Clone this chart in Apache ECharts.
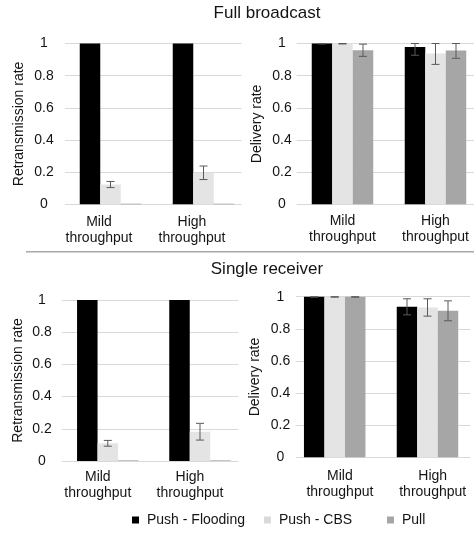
<!DOCTYPE html>
<html><head><meta charset="utf-8">
<script src="https://cdn.jsdelivr.net/npm/echarts@6.0.0/dist/echarts.min.js"></script>
<style>html,body{margin:0;padding:0;background:#fff}#c{width:474px;height:537px}</style>
</head><body><div id="c"></div>
<script>
// ---------- DATA ----------
const categories = ['Mild\nthroughput', 'High\nthroughput'];
const seriesNames = ['Push - Flooding', 'Push - CBS', 'Pull'];
const panelTitles = ['Full broadcast', 'Single receiver'];
const yAxisNames = ['Retransmission rate', 'Delivery rate'];
const yMin = 0, yMax = 1, yStep = 0.2;

// Full broadcast - retransmission rate
const fullRetransFlooding = [1.0, 1.0];
const fullRetransFloodingErr = [0, 0];
const fullRetransCBS = [0.123, 0.196];
const fullRetransCBSErr = [0.019, 0.042];
const fullRetransPull = [0.004, 0.004];
const fullRetransPullErr = [0, 0];

// Full broadcast - delivery rate
const fullDeliveryFlooding = [1.0, 0.979];
const fullDeliveryFloodingErr = [0.003, 0.052];
const fullDeliveryCBS = [1.0, 0.938];
const fullDeliveryCBSErr = [0.003, 0.068];
const fullDeliveryPull = [0.958, 0.956];
const fullDeliveryPullErr = [0.038, 0.048];

// Single receiver - retransmission rate
const singleRetransFlooding = [1.0, 1.0];
const singleRetransFloodingErr = [0, 0];
const singleRetransCBS = [0.11, 0.182];
const singleRetransCBSErr = [0.018, 0.052];
const singleRetransPull = [0.004, 0.004];
const singleRetransPullErr = [0, 0];

// Single receiver - delivery rate
const singleDeliveryFlooding = [1.0, 0.937];
const singleDeliveryFloodingErr = [0.003, 0.05];
const singleDeliveryCBS = [1.0, 0.933];
const singleDeliveryCBSErr = [0.003, 0.054];
const singleDeliveryPull = [1.0, 0.912];
const singleDeliveryPullErr = [0.003, 0.062];

// ---------- STYLE / LAYOUT ----------
const FONT = '"Liberation Sans", Arial, Helvetica, sans-serif';
const TXT = '#141414';
const COLORS = ['#000000', '#e4e4e4', '#a6a6a6'];
const LEGEND_COLORS = ['#000000', '#d9d9d9', '#a6a6a6'];
const GRID_COLOR = '#d9d9d9';
const ERR_COLOR = '#5a5a5a';
const BAR_W = 20.5;
const CAP_W = 8;

const panels = [
  { vals: [fullRetransFlooding, fullRetransCBS, fullRetransPull],
    errs: [fullRetransFloodingErr, fullRetransCBSErr, fullRetransPullErr],
    yName: yAxisNames[0],
    axisGrid: {left: 65, top: 43.5, width: 176.7, height: 160.8},
    barGrid: {left: 64, width: 186},
    nameGap: 38.5, yLabMargin: 21, xLabMargin: 9.5, labShift: -11.5 },
  { vals: [fullDeliveryFlooding, fullDeliveryCBS, fullDeliveryPull],
    errs: [fullDeliveryFloodingErr, fullDeliveryCBSErr, fullDeliveryPullErr],
    yName: yAxisNames[1],
    axisGrid: {left: 296.7, top: 43.5, width: 190, height: 160.8},
    barGrid: {left: 296, width: 186},
    nameGap: 32.7, yLabMargin: 14.7, xLabMargin: 8.5, labShift: 0 },
  { vals: [singleRetransFlooding, singleRetransCBS, singleRetransPull],
    errs: [singleRetransFloodingErr, singleRetransCBSErr, singleRetransPullErr],
    yName: yAxisNames[0],
    axisGrid: {left: 61.7, top: 300, width: 176.5, height: 161},
    barGrid: {left: 61.7, width: 184.4},
    nameGap: 36.7, yLabMargin: 19.7, xLabMargin: 7.5, labShift: -10 },
  { vals: [singleDeliveryFlooding, singleDeliveryCBS, singleDeliveryPull],
    errs: [singleDeliveryFloodingErr, singleDeliveryCBSErr, singleDeliveryPullErr],
    yName: yAxisNames[1],
    axisGrid: {left: 295.7, top: 296.7, width: 174.3, height: 160.6},
    barGrid: {left: 288.3, width: 185.6},
    nameGap: 33.7, yLabMargin: 15.2, xLabMargin: 10.5, labShift: 5.2 }
];

const grid = [], xAxis = [], yAxis = [], series = [];
panels.forEach((p, pi) => {
  const ag = Object.assign({outerBoundsMode: 'none', containLabel: false}, p.axisGrid);
  const bg = {outerBoundsMode: 'none', containLabel: false, left: p.barGrid.left, width: p.barGrid.width,
              top: p.axisGrid.top, height: p.axisGrid.height};
  grid.push(ag, bg);
  const ai = 2 * pi, bi = 2 * pi + 1;
  xAxis.push({gridIndex: ai, type: 'category', data: categories, show: false});
  yAxis.push({gridIndex: ai, type: 'value', min: yMin, max: yMax, interval: yStep,
    name: p.yName, nameLocation: 'middle', nameGap: p.nameGap,
    nameTextStyle: {fontSize: 14, color: TXT, fontFamily: FONT},
    axisLine: {show: false}, axisTick: {show: false},
    axisLabel: {align: 'center', margin: p.yLabMargin, fontSize: 14, color: TXT, fontFamily: FONT},
    splitLine: {show: true, lineStyle: {color: GRID_COLOR, width: 1}}});
  const s = p.labShift;
  xAxis.push({gridIndex: bi, type: 'category', data: categories,
    axisLine: {show: false}, axisTick: {show: false},
    axisLabel: {margin: p.xLabMargin, fontSize: 14, lineHeight: 16.5, color: TXT, fontFamily: FONT,
      align: 'center', padding: s < 0 ? [0, -2 * s, 0, 0] : [0, 0, 0, 2 * s]}});
  yAxis.push({gridIndex: bi, type: 'value', min: yMin, max: yMax, show: false, splitLine: {show: false}});
  seriesNames.forEach((name, k) => {
    series.push({type: 'bar', name: name, xAxisIndex: bi, yAxisIndex: bi,
      data: p.vals[k], barWidth: BAR_W, barGap: '0%', itemStyle: {color: COLORS[k]}, silent: true});
  });
  seriesNames.forEach((name, k) => {
    series.push({type: 'custom', name: name, xAxisIndex: bi, yAxisIndex: bi, z: 10, silent: true,
      data: p.vals[k].map((v, i) => [i, v, p.errs[k][i]]),
      encode: {x: 0, y: 1},
      renderItem: function (params, api) {
        const e = api.value(2);
        if (!e) return null;
        const ci = api.value(0), v = api.value(1);
        const x = api.coord([ci, v])[0] + (k - 1) * BAR_W;
        const yHi = api.coord([ci, Math.min(yMax, v + e)])[1];
        const yLo = api.coord([ci, Math.max(yMin, v - e)])[1];
        const hw = CAP_W / 2;
        const st = {stroke: ERR_COLOR, lineWidth: 1};
        return {type: 'group', children: [
          {type: 'line', shape: {x1: x, y1: yHi, x2: x, y2: yLo}, style: st},
          {type: 'line', shape: {x1: x - hw, y1: yHi, x2: x + hw, y2: yHi}, style: st},
          {type: 'line', shape: {x1: x - hw, y1: yLo, x2: x + hw, y2: yLo}, style: st}
        ]};
      }});
  });
});

const LEGEND_X = [132, 264, 387];
const legend = seriesNames.map((n, i) => ({
  data: [{name: n, itemStyle: {color: LEGEND_COLORS[i]}}],
  left: LEGEND_X[i], top: 513, padding: 0, icon: 'rect', itemWidth: 7, itemHeight: 7,
  selectedMode: false,
  textStyle: {fontSize: 14, color: TXT, fontFamily: FONT, padding: [0, 0, 0, 3]}
}));

const title = [
  {text: panelTitles[0], left: 267, top: 5, textAlign: 'center', padding: 0,
   textStyle: {fontSize: 17, fontWeight: 'normal', color: TXT, fontFamily: FONT}},
  {text: panelTitles[1], left: 267, top: 261, textAlign: 'center', padding: 0,
   textStyle: {fontSize: 17, fontWeight: 'normal', color: TXT, fontFamily: FONT}}
];

const chart = echarts.init(document.getElementById('c'), null, {renderer: 'canvas'});
chart.setOption({
  animation: false,
  backgroundColor: '#ffffff',
  textStyle: {fontFamily: FONT},
  title: title,
  legend: legend,
  grid: grid, xAxis: xAxis, yAxis: yAxis, series: series,
  graphic: [{type: 'line', shape: {x1: 26, y1: 251.7, x2: 474, y2: 251.7},
             style: {stroke: '#a8a8a8', lineWidth: 1.5}, silent: true}]
});
</script>
</body></html>
